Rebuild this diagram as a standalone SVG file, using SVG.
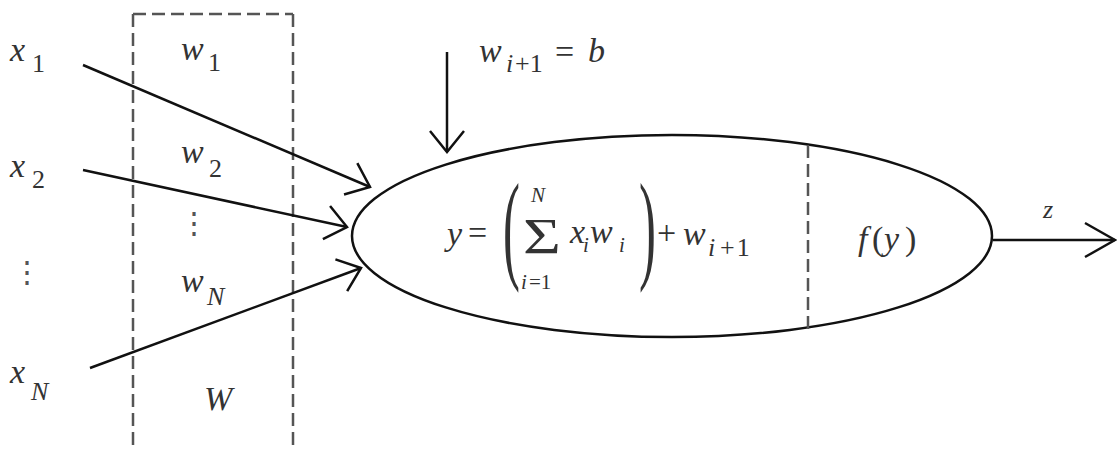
<svg xmlns="http://www.w3.org/2000/svg" width="1117" height="450" viewBox="0 0 1117 450">
<style>
text{font-family:"Liberation Serif",serif;fill:#333}
.v{font-style:italic;font-size:34px}
.s{font-style:italic;font-size:26px}
.t{font-style:italic;font-size:21px}
.n{font-style:normal}
.dots{font-size:30px;fill:#555}
.edge{stroke:#111;stroke-width:2.5;fill:none}
.dash{stroke:#555;stroke-width:2.5;fill:none;stroke-dasharray:13 6}
</style>
<defs>
<marker id="arr" markerUnits="userSpaceOnUse" viewBox="-30 -25 40 50" refX="0" refY="0" markerWidth="40" markerHeight="50" orient="auto">
<path d="M-21,-17 L0,0 L-21,17" fill="none" stroke="#111" stroke-width="2.5"/>
</marker>
<marker id="arrOut" markerUnits="userSpaceOnUse" viewBox="-36 -25 44 50" refX="0" refY="0" markerWidth="44" markerHeight="50" orient="auto">
<path d="M-30,-17 L0,0 L-30,17" fill="none" stroke="#111" stroke-width="2.5"/>
</marker>
</defs>
<rect width="1117" height="450" fill="#fff"/>

<g id="x1"><text class="v" x="10" y="61">x</text><text class="s n" x="32" y="72">1</text></g>
<g id="x2"><text class="v" x="10" y="177">x</text><text class="s n" x="32" y="188">2</text></g>
<g id="dots-left"><text class="dots" x="12" y="282">⋮</text></g>
<g id="xN"><text class="v" x="10" y="383">x</text><text class="s" x="31" y="400">N</text></g>

<g id="weights">
<path class="dash" d="M133,14 H293 M133,14 V450 M293,14 V450"/>
<text class="v" x="181" y="60">w</text><text class="s n" x="208" y="71">1</text>
<text class="v" x="181" y="163">w</text><text class="s n" x="209" y="177">2</text>
<text class="dots" x="179" y="233">⋮</text>
<text class="v" x="181" y="292">w</text><text class="s" x="207" y="305">N</text>
<text class="v" font-size="37" x="204" y="410">W</text>
</g>

<g id="bias">
<text class="v" x="479" y="62">w</text><text class="s" x="506" y="72">i</text><text class="s n" x="515" y="72">+1</text>
<text class="v n" font-size="38" x="555" y="63">=</text><text class="v" x="588" y="62">b</text>
</g>

<g id="neuron">
<ellipse cx="672" cy="236" rx="320" ry="101" fill="none" stroke="#111" stroke-width="2.5"/>
<path class="dash" d="M808,145 V333"/>
<text class="v" x="447" y="245">y</text>
<text class="v n" x="468" y="244">=</text>
<text class="n" font-size="121" transform="translate(503,267) scale(0.42,1)">(</text>
<text class="t" x="531" y="202">N</text>
<text class="n" font-size="50" transform="translate(523,253) scale(1.3,1)">Σ</text>
<text class="t" x="521" y="289">i</text><text class="t n" x="529" y="289">=1</text>
<text class="v" x="570" y="243">x</text><text class="t" x="583" y="252">i</text>
<text class="v" x="590" y="243">w</text><text class="t" x="619" y="252">i</text>
<text class="n" font-size="121" transform="translate(639,267) scale(0.42,1)">)</text>
<text class="v n" x="657" y="244">+</text>
<text class="v" x="683" y="245">w</text><text class="s" font-size="28" x="708" y="256">i</text><text class="s n" font-size="28" letter-spacing="2" x="720" y="256">+1</text>
<text class="v" x="858" y="250">f</text><text class="v n" x="872" y="250">(</text><text class="v" x="884" y="250">y</text><text class="v n" x="905" y="250">)</text>
</g>

<g id="output"><text class="s" x="1043" y="218">z</text></g>

<g id="connectors">
<path class="edge" d="M83,65 L370,187" marker-end="url(#arr)"/>
<path class="edge" d="M83,170 L347,227" marker-end="url(#arr)"/>
<path class="edge" d="M90,368 L361,268" marker-end="url(#arr)"/>
<path class="edge" d="M447,52 L447,152" marker-end="url(#arr)"/>
<path class="edge" d="M993,240 L1115,240" marker-end="url(#arrOut)"/>
</g>
</svg>
